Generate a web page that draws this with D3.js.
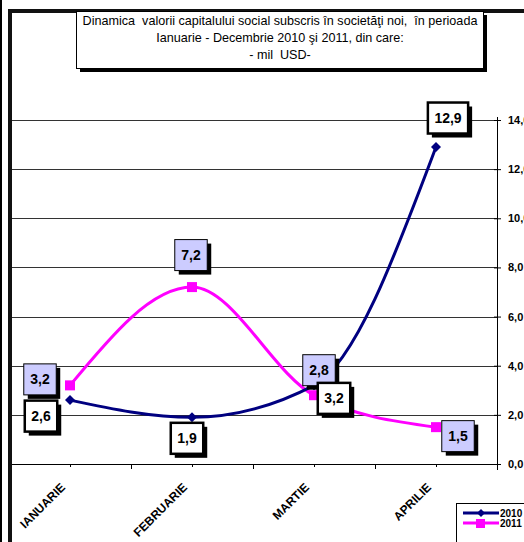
<!DOCTYPE html>
<html><head><meta charset="utf-8">
<script src="https://cdn.jsdelivr.net/npm/d3@7"></script>
<style>
html,body{margin:0;padding:0;background:#fff;overflow:hidden;}
svg{display:block;font-family:"Liberation Sans",Arial,sans-serif;}
</style></head>
<body>
<svg id="c" width="524" height="542"></svg>
<script>
// ---- data ----
const categories = ["IANUARIE","FEBRUARIE","MARTIE","APRILIE"];
const series2010 = [2.6, 1.9, 3.2, 12.9];
const series2011 = [3.2, 7.2, 2.8, 1.5];
const seriesNames = ["2010","2011"];
const yTicks = [0,2,4,6,8,10,12,14];
const titleLines = ["Dinamica  valorii capitalului social subscris în societăţi noi,  în perioada",
                    "Ianuarie - Decembrie 2010 şi 2011, din care:",
                    "- mil  USD-"];

const fmt = v => d3.format(".1f")(v).replace(".", ",");

const svg = d3.select("#c");

// outer frame
svg.append("rect").attr("x",0).attr("y",0).attr("width",2).attr("height",542).attr("fill","#000");
svg.append("rect").attr("x",8).attr("y",9).attr("width",4).attr("height",533).attr("fill","#111");
svg.append("rect").attr("x",8).attr("y",9).attr("width",516).attr("height",4).attr("fill","#111");

// scales
const x = d3.scaleBand().domain(categories).range([9,497]);
const xc = d => x(d) + x.bandwidth()/2;
const y = d3.scaleLinear().domain([0,14]).range([464,120]);

// gridlines
svg.append("g").selectAll("line").data(yTicks.filter(t=>t>0)).join("line")
  .attr("x1",12).attr("x2",497)
  .attr("y1",d=>Math.round(y(d))+0.5).attr("y2",d=>Math.round(y(d))+0.5)
  .attr("stroke","#333").attr("stroke-width",1);

// x axis
svg.append("line").attr("x1",12).attr("x2",497).attr("y1",464.5).attr("y2",464.5).attr("stroke","#000");
const xTickPos = [];
categories.forEach((c,i)=>{ xTickPos.push({x:xc(c),len:3}); if(i>0) xTickPos.push({x:x(c),len:5}); });
svg.append("g").selectAll("line").data(xTickPos).join("line")
  .attr("x1",d=>Math.round(d.x)+0.5).attr("x2",d=>Math.round(d.x)+0.5)
  .attr("y1",464).attr("y2",d=>464+d.len).attr("stroke","#000");
svg.append("g").selectAll("text").data(categories).join("text")
  .attr("transform",d=>`translate(${xc(d)-4},${488}) rotate(-45)`)
  .attr("text-anchor","end").attr("font-size",12).attr("font-weight","bold").text(d=>d);

// right y axis
const yAxis = d3.axisRight(y).tickValues(yTicks).tickSize(4).tickFormat(fmt);
const ya = svg.append("g").attr("transform","translate(497,0)").call(yAxis);
ya.select(".domain").attr("d","M0.5,117V470").attr("stroke","#000");
ya.selectAll(".tick line").attr("x1",-3).attr("x2",4).attr("stroke","#000");
ya.selectAll(".tick text").attr("x",11).attr("font-size",11).attr("font-weight","bold")
  .attr("font-family","Liberation Sans, Arial, sans-serif").attr("fill","#000");

// lines
const line = d3.line().x((d,i)=>xc(categories[i])).y(d=>y(d)).curve(d3.curveMonotoneX);
svg.append("path").datum(series2011).attr("d",line).attr("fill","none").attr("stroke","#FF00FF").attr("stroke-width",3);
svg.append("path").datum(series2010).attr("d",line).attr("fill","none").attr("stroke","#000080").attr("stroke-width",3);

// markers
svg.append("g").selectAll("rect").data(series2011).join("rect")
  .attr("x",(d,i)=>xc(categories[i])-5).attr("y",d=>y(d)-5).attr("width",10).attr("height",10).attr("fill","#FF00FF");
svg.append("g").selectAll("path").data(series2010).join("path")
  .attr("transform",(d,i)=>`translate(${xc(categories[i])},${y(d)})`)
  .attr("d","M0,-5L5,0L0,5L-5,0Z").attr("fill","#000080");

// data labels (offsets from points)
const off2010 = [[-29,16],[-5,21],[20,13],[12,-29]];
const off2011 = [[-30,-6],[-1,-32],[5,-25],[22,9]];
function labels(data, offs, white){
  const g = svg.append("g");
  data.forEach((v,i)=>{
    const cx = xc(categories[i]) + offs[i][0], cy = y(v) + offs[i][1];
    const t = fmt(v);
    const tmp = g.append("text").attr("font-size",14).attr("font-weight","bold").text(t);
    const w = tmp.node().getComputedTextLength() + 13, h = 31;
    tmp.remove();
    g.append("rect").attr("x",cx-w/2+4).attr("y",cy-h/2+4).attr("width",w).attr("height",h).attr("fill","#000");
    g.append("rect").attr("x",cx-w/2).attr("y",cy-h/2).attr("width",w).attr("height",h)
      .attr("fill", white ? "#fff" : "#CCCCFF").attr("stroke","#000").attr("stroke-width", white ? 2.5 : 1);
    g.append("text").attr("x",cx).attr("y",cy+5).attr("text-anchor","middle")
      .attr("font-size",14).attr("font-weight","bold").text(t);
  });
}
labels(series2011, off2011, false);
labels(series2010, off2010, true);

// title box
svg.append("rect").attr("x",80).attr("y",15).attr("width",407).attr("height",57).attr("fill","#000");
svg.append("rect").attr("x",76.5).attr("y",11.5).attr("width",407).attr("height",57).attr("fill","#fff").attr("stroke","#000");
svg.append("g").selectAll("text").data(titleLines).join("text")
  .attr("x",280).attr("y",(d,i)=>25+i*17).attr("text-anchor","middle")
  .attr("font-size",12.6).style("white-space","pre").text(d=>d);

// legend
svg.append("rect").attr("x",456.5).attr("y",503.5).attr("width",80).attr("height",50).attr("fill","#fff").attr("stroke","#000");
const legColors = ["#000080","#FF00FF"];
seriesNames.forEach((n,i)=>{
  const ly = 513 + i*10;
  svg.append("line").attr("x1",463).attr("x2",499).attr("y1",ly).attr("y2",ly).attr("stroke",legColors[i]).attr("stroke-width",3);
  if(i===0) svg.append("path").attr("transform",`translate(481,${ly})`).attr("d","M0,-4L4,0L0,4L-4,0Z").attr("fill",legColors[i]);
  else svg.append("rect").attr("x",476).attr("y",ly-4).attr("width",9).attr("height",9).attr("fill",legColors[i]);
  svg.append("text").attr("x",500).attr("y",ly+4).attr("font-size",10).attr("font-weight","bold").text(n);
});
</script>
</body></html>
